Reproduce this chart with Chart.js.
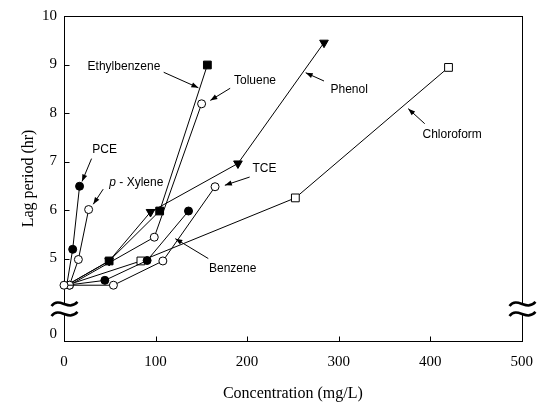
<!DOCTYPE html>
<html><head><meta charset="utf-8">
<script src="https://cdn.jsdelivr.net/npm/chart.js@4"></script>
<style>html,body{margin:0;padding:0;background:#fff}canvas{display:block}</style>
</head><body>
<canvas id="c" width="545" height="412"></canvas>
<script>
// ---- data (concentration mg/L, lag period hr) ----
const pceX = [3, 9.5, 17];
const pceY = [4.45, 5.19, 6.49];
const xyleneX = [6, 15.7, 26.9];
const xyleneY = [4.45, 4.98, 6.01];
const benzeneX = [3, 44.6, 90.8, 136];
const benzeneY = [4.45, 4.55, 4.96, 5.98];
const tceX = [0, 54, 108, 165];
const tceY = [4.45, 4.45, 4.95, 6.48];
const chloroformX = [3, 84, 252.7, 420];
const chloroformY = [4.45, 4.95, 6.25, 8.94];
const tolueneX = [6, 98.6, 150.3];
const tolueneY = [4.45, 5.44, 8.19];
const ethylbenzeneX = [3, 49.3, 104.5, 156.6];
const ethylbenzeneY = [4.45, 4.95, 5.98, 8.99];
const phenolX = [3, 49.3, 94.5, 190, 284];
const phenolY = [4.45, 4.95, 5.96, 6.96, 9.45];

const xTicks = [0, 100, 200, 300, 400, 500];
const yTickValues = [3.45, 5, 6, 7, 8, 9, 10];   // lower part of axis is broken: "0" sits below the break
const yTickLabels = ['0', '5', '6', '7', '8', '9', '10'];
const innerYTicks = [5, 6, 7, 8, 9];
const innerXTicks = [100, 200, 300, 400];

// annotations: label anchor and arrow (data units)
const noteText = ['Ethylbenzene', 'Toluene', 'Phenol', 'Chloroform', 'TCE', 'PCE', ' - Xylene', 'Benzene'];
const noteAt = [[65.5, 8.96], [208.6, 8.67], [311.5, 8.49], [424, 7.56], [218.9, 6.86], [44.4, 7.25], [79, 6.57], [184.2, 4.80]];
const arrowFrom = [[108.9, 8.84], [181.5, 8.51], [284, 8.66], [394, 7.78], [202.8, 6.68], [30.1, 7.06], [42.8, 6.43], [157.6, 5.0]];
const arrowTo = [[146.8, 8.52], [159.8, 8.26], [264, 8.83], [376, 8.09], [175.7, 6.51], [19.7, 6.59], [32, 6.12], [121.6, 5.41]];

const BREAK_VALUE = 3.96;

function pts(xs, ys) { return xs.map((x, i) => ({ x: x, y: ys[i] })); }

function series(label, xs, ys, shape, filled, radius, hideFirst, rotation) {
  return {
    label: label,
    data: pts(xs, ys),
    showLine: true,
    clip: false,
    borderColor: '#000',
    borderWidth: 1,
    pointStyle: shape,
    pointRotation: rotation || 0,
    pointBackgroundColor: filled ? '#000' : '#fff',
    pointBorderColor: '#000',
    pointBorderWidth: 1,
    pointRadius: (c) => (hideFirst && c.dataIndex === 0) ? 0 : radius,
  };
}

const serif = '"Liberation Serif", "Times New Roman", serif';
const sans = '"Liberation Sans", Arial, sans-serif';

const decor = {
  id: 'decor',
  beforeDatasetsDraw(chart) {
    const { ctx, chartArea: a, scales: { x, y } } = chart;
    ctx.save();
    ctx.strokeStyle = '#000';
    ctx.lineWidth = 1;
    const L = Math.round(a.left) + 0.5, R = Math.round(a.right) + 0.5;
    const T = Math.round(a.top) + 0.5, B = Math.round(a.bottom) + 0.5;
    ctx.strokeRect(L, T, R - L, B - T);
    ctx.beginPath();
    innerYTicks.forEach(v => { const py = Math.round(y.getPixelForValue(v)) + 0.5; ctx.moveTo(L, py); ctx.lineTo(L + 5, py); });
    innerXTicks.forEach(v => { const px = Math.round(x.getPixelForValue(v)) + 0.5; ctx.moveTo(px, B); ctx.lineTo(px, B - 5); });
    ctx.stroke();
    // axis breaks
    const by = y.getPixelForValue(BREAK_VALUE);
    [L, R].forEach(px => {
      ctx.fillStyle = '#fff';
      ctx.fillRect(px - 3, by - 5, 6, 10);
      ctx.lineWidth = 2.6;
      [-5, 5].forEach(dy => {
        ctx.beginPath();
        ctx.moveTo(px - 13, by + dy + 2);
        ctx.bezierCurveTo(px - 5, by + dy - 8, px + 4, by + dy + 8, px + 13, by + dy - 2);
        ctx.stroke();
      });
    });
    ctx.restore();
  },
  afterDatasetsDraw(chart) {
    const { ctx, scales: { x, y } } = chart;
    ctx.save();
    ctx.strokeStyle = '#000';
    ctx.fillStyle = '#000';
    ctx.lineWidth = 1;
    ctx.textBaseline = 'middle';
    noteText.forEach((t, i) => {
      const tx = x.getPixelForValue(noteAt[i][0]), ty = y.getPixelForValue(noteAt[i][1]);
      if (i === 6) {
        ctx.font = 'italic 12px ' + sans;
        const pw = ctx.measureText('p').width;
        ctx.font = '12px ' + sans;
        const rw = ctx.measureText(t).width;
        const start = tx - (pw + rw) / 2;
        ctx.textAlign = 'left';
        ctx.font = 'italic 12px ' + sans;
        ctx.fillText('p', start, ty);
        ctx.font = '12px ' + sans;
        ctx.fillText(t, start + pw, ty);
      } else {
        ctx.font = '12px ' + sans;
        ctx.textAlign = 'center';
        ctx.fillText(t, tx, ty);
      }
      const x1 = x.getPixelForValue(arrowFrom[i][0]), y1 = y.getPixelForValue(arrowFrom[i][1]);
      const x2 = x.getPixelForValue(arrowTo[i][0]), y2 = y.getPixelForValue(arrowTo[i][1]);
      ctx.beginPath(); ctx.moveTo(x1, y1); ctx.lineTo(x2, y2); ctx.stroke();
      const ang = Math.atan2(y2 - y1, x2 - x1), len = 7, w = 2.6;
      const c = Math.cos(ang), s = Math.sin(ang);
      ctx.beginPath();
      ctx.moveTo(x2, y2);
      ctx.lineTo(x2 - len * c + w * s, y2 - len * s - w * c);
      ctx.lineTo(x2 - len * c - w * s, y2 - len * s + w * c);
      ctx.closePath(); ctx.fill();
    });
    ctx.restore();
  }
};

new Chart(document.getElementById('c'), {
  type: 'scatter',
  data: {
    datasets: [
      series('TCE', tceX, tceY, 'circle', false, 4, false),
      series('PCE', pceX, pceY, 'circle', true, 4, true),
      series('p-Xylene', xyleneX, xyleneY, 'circle', false, 4, false),
      series('Benzene', benzeneX, benzeneY, 'circle', true, 4, true),
      series('Chloroform', chloroformX, chloroformY, 'rect', false, 5.5, true),
      series('Toluene', tolueneX, tolueneY, 'circle', false, 4, false),
      series('Ethylbenzene', ethylbenzeneX, ethylbenzeneY, 'rect', true, 5.5, true),
      series('Phenol', phenolX, phenolY, 'triangle', true, 5, true, 180),
    ]
  },
  options: {
    responsive: false,
    animation: false,
    devicePixelRatio: 1,
    events: [],
    layout: { padding: { top: 16, right: 19, left: 0, bottom: 0 } },
    plugins: { legend: { display: false }, tooltip: { enabled: false }, title: { display: false } },
    scales: {
      x: {
        type: 'linear', min: 0, max: 500,
        afterBuildTicks(s) { s.ticks = xTicks.map(v => ({ value: v })); },
        grid: { display: false, drawTicks: false },
        border: { display: false },
        ticks: { color: '#000', font: { family: serif, size: 15 }, padding: 12, maxRotation: 0, autoSkip: false },
        title: { display: true, text: 'Concentration (mg/L)', color: '#000', font: { family: serif, size: 16 }, padding: { top: 0, bottom: 9 } },
        afterFit(s) { s.height = 71; }
      },
      y: {
        type: 'linear', min: 3.3, max: 10,
        afterBuildTicks(s) { s.ticks = yTickValues.map(v => ({ value: v })); },
        grid: { display: false, drawTicks: false },
        border: { display: false },
        ticks: { color: '#000', font: { family: serif, size: 15 }, padding: 7, autoSkip: false, callback: (v, i) => yTickLabels[i] },
        title: { display: true, text: 'Lag period (hr)', color: '#000', font: { family: serif, size: 16 }, padding: { top: 19, bottom: 0 } },
        afterFit(s) { s.width = 64; }
      }
    }
  },
  plugins: [decor]
});
</script>
</body></html>
